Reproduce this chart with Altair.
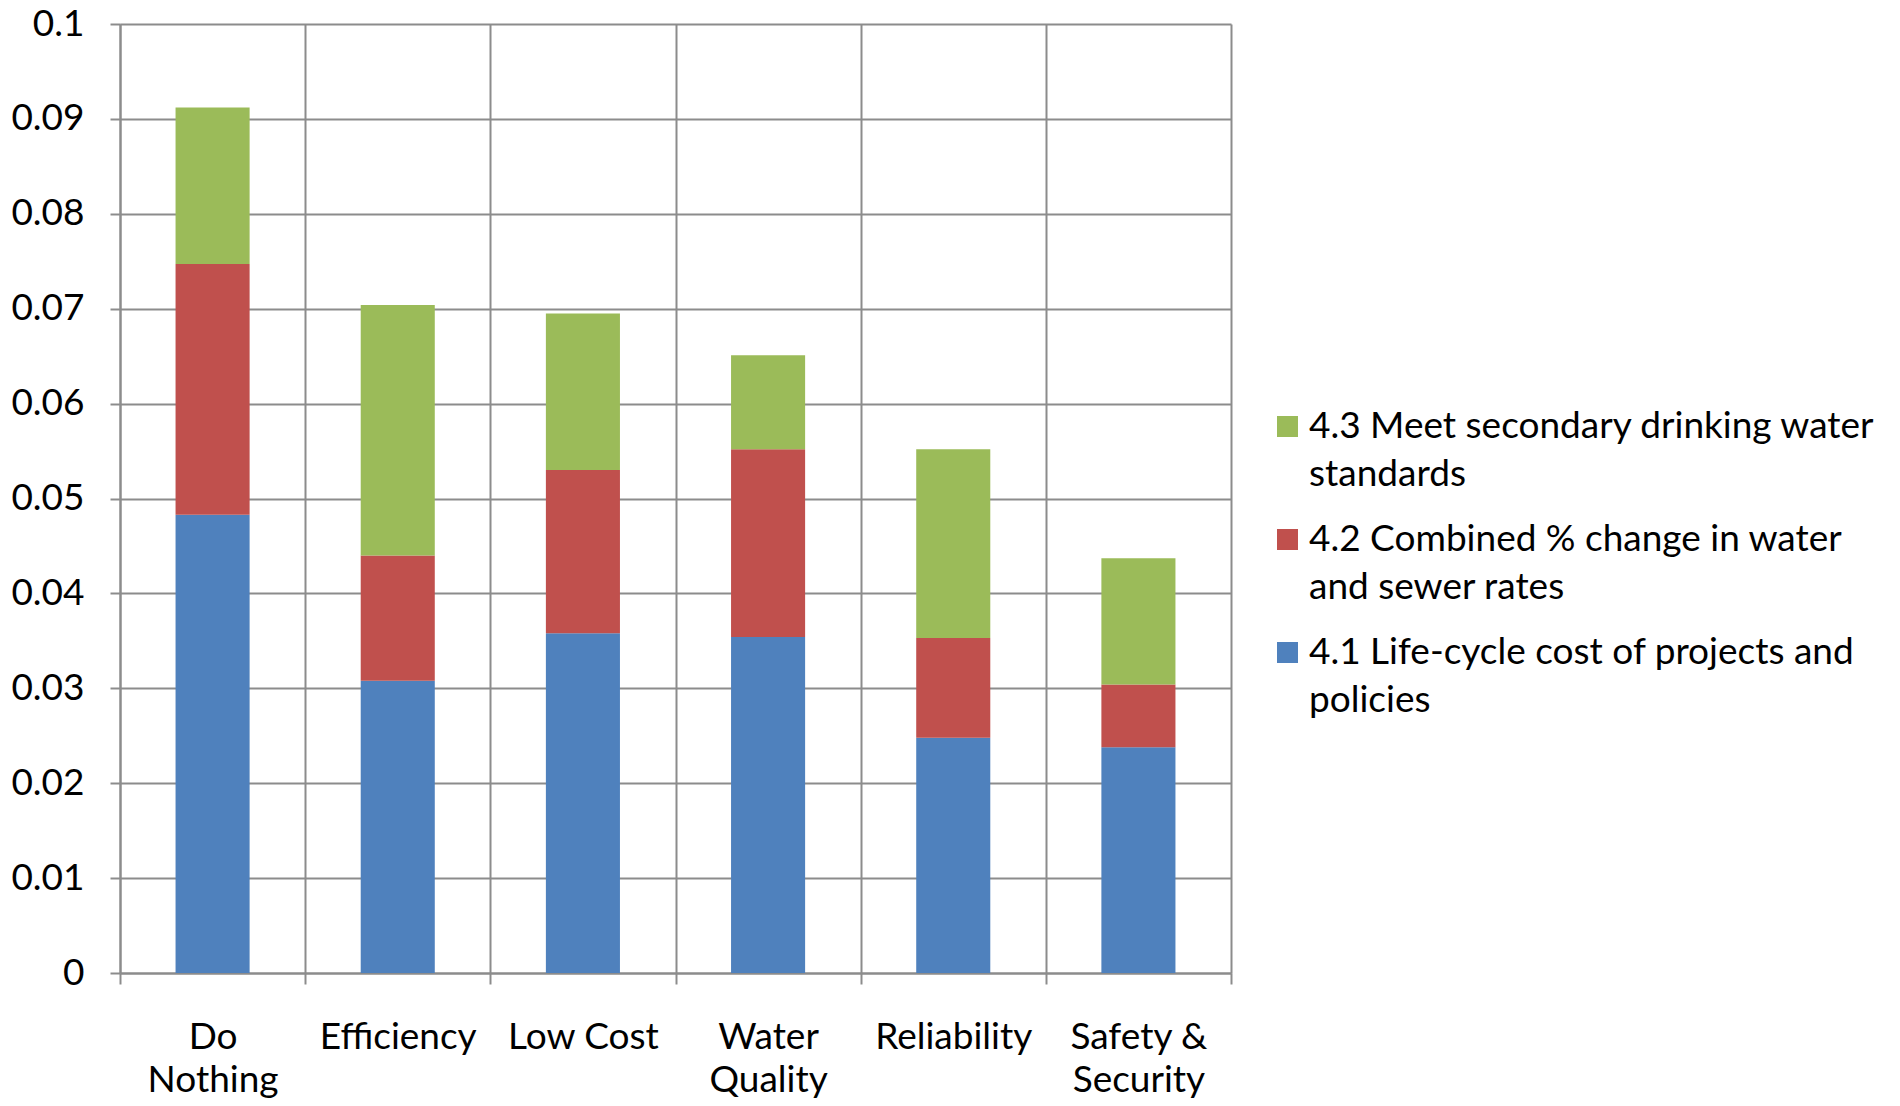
import altair as alt
import pandas as pd

categories = ["Do Nothing", "Efficiency", "Low Cost", "Water Quality", "Reliability", "Safety & Security"]
category_lines = [["Do", "Nothing"], ["Efficiency"], ["Low Cost"], ["Water", "Quality"], ["Reliability"], ["Safety &", "Security"]]

series = [
    "4.1 Life-cycle cost of projects and policies",
    "4.2 Combined % change in water and sewer rates",
    "4.3 Meet secondary drinking water standards",
]
series_lines = [
    ["4.1 Life-cycle cost of projects and", "policies"],
    ["4.2 Combined % change in water", "and sewer rates"],
    ["4.3 Meet secondary drinking water", "standards"],
]
colors = ["#4F81BD", "#C0504D", "#9BBB59"]

life_cycle = [0.0483, 0.0308, 0.0358, 0.0354, 0.0248, 0.0238]
rate_change = [0.0264, 0.0132, 0.0172, 0.0198, 0.0105, 0.0066]
drinking_std = [0.0165, 0.0264, 0.0165, 0.0099, 0.0199, 0.0133]

y_ticks = [0, 0.01, 0.02, 0.03, 0.04, 0.05, 0.06, 0.07, 0.08, 0.09, 0.1]

rows = []
for ci, cat in enumerate(categories):
    for si, vals in enumerate([life_cycle, rate_change, drinking_std]):
        rows.append({"category": cat, "series": series[si], "value": vals[ci], "stack": si})
df = pd.DataFrame(rows)


def lines_expr(keys, lines):
    parts = []
    for k, ls in zip(keys, lines):
        arr = "[" + ",".join("'" + s + "'" for s in ls) + "]"
        parts.append("datum.value === '" + k + "' ? " + arr)
    return " : ".join(parts) + " : datum.value"


x_expr = lines_expr(categories, category_lines)
legend_expr = lines_expr(series, series_lines)

GRID = "#8c8c8c"
FONT = "Lato"

chart = alt.Chart(df).mark_bar(width=alt.RelativeBandSize(0.4)).encode(
    x=alt.X(
        "category:N",
        sort=categories,
        title=None,
        scale=alt.Scale(paddingInner=0, paddingOuter=0),
        axis=alt.Axis(
            tickBand="extent",
            grid=True,
            labelAngle=0,
            labelExpr=x_expr,
            tickSize=11,
            labelPadding=35,
            labelLineHeight=43,
            labelBaseline="top",
        ),
    ),
    y=alt.Y(
        "value:Q",
        stack="zero",
        title=None,
        scale=alt.Scale(domain=[0, 0.1], nice=False),
        axis=alt.Axis(values=y_ticks, format="~g", tickSize=10, labelPadding=26, grid=True),
    ),
    color=alt.Color(
        "series:N",
        scale=alt.Scale(domain=series[::-1], range=colors[::-1]),
        legend=alt.Legend(
            title=None,
            orient="none",
            legendX=1149,
            legendY=384,
            symbolType="square",
            symbolSize=441,
            symbolStrokeWidth=0,
            labelFont=FONT,
            labelFontSize=37,
            labelColor="#000000",
            labelLimit=800,
            labelOffset=3,
            rowPadding=27,
            labelExpr=legend_expr,
            labelBaseline="middle",
            padding=0,
        ),
    ),
    order=alt.Order("stack:Q", sort="ascending"),
).properties(
    width=1111,
    height=949,
    autosize=alt.AutoSizeParams(type="none"),
    padding={"left": 112, "top": 16, "right": 650, "bottom": 125},
).configure(
    style={"guide-label": {"lineHeight": 48}},
    background="white",
).configure_view(
    stroke=None
).configure_axis(
    domainColor=GRID,
    domainWidth=2,
    gridColor=GRID,
    gridWidth=2,
    gridOpacity=1,
    tickColor=GRID,
    tickWidth=2,
    labelFont=FONT,
    labelFontSize=37,
    labelColor="#000000",
)

chart.save("out.html", embed_options={"renderer": "svg", "actions": False})
